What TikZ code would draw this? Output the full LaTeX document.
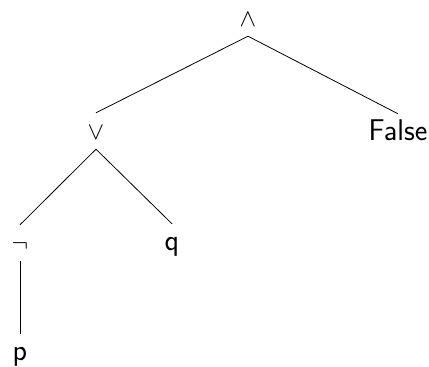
\documentclass[tikz,border=0pt]{standalone}
\begin{document}
\begin{tikzpicture}[x=1pt,y=-1pt,
  lbl/.style={anchor=base,inner sep=0pt,text height=26pt,text depth=10pt,font=\fontsize{30}{34}\selectfont\sffamily},
  edge/.style={line width=0.8pt}]
\useasboundingbox (0,0) rectangle (429,367);
\node[lbl] (and) at (248,26) {$\wedge$};
\node[lbl] (or) at (96,139) {$\vee$};
\node[lbl] (false) at (398,140) {False};
\node[lbl] (neg) at (20,251) {$\neg$};
\node[lbl] (q) at (172,250) {q};
\node[lbl] (p) at (20,360) {p};
\draw[edge] (and.south) -- (or.north);
\draw[edge] (and.south) -- (false.north);
\draw[edge] (or.south) -- (neg.north);
\draw[edge] (or.south) -- (q.north);
\draw[edge] (neg.south) -- (p.north);
\end{tikzpicture}
\end{document}
